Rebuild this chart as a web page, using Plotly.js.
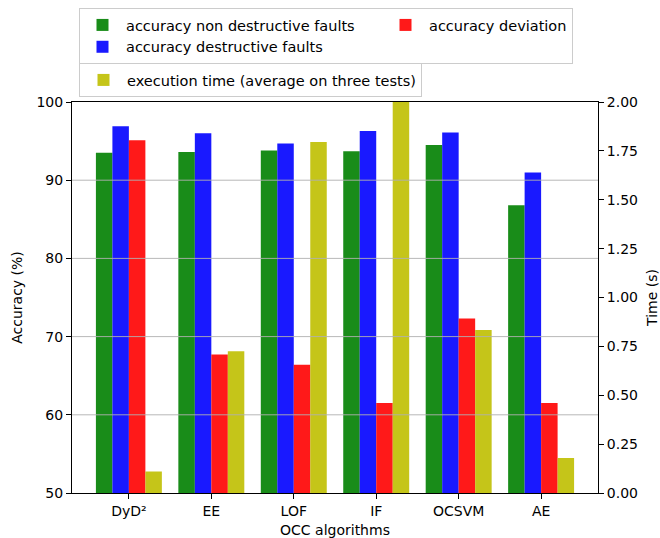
<!DOCTYPE html>
<html><head><meta charset="utf-8">
<script src="https://cdn.plot.ly/plotly-3.0.1.min.js"></script>
<style>html,body{margin:0;padding:0;background:#fff}</style>
</head><body><div id="chart" style="width:660px;height:538px"></div>
<script>
// ---- data ----
const categories = ['DyD²', 'EE', 'LOF', 'IF', 'OCSVM', 'AE'];
const accNonDestructive = [93.5, 93.6, 93.8, 93.7, 94.5, 86.8];
const accDestructive = [96.9, 96.0, 94.7, 96.3, 96.1, 91.0];
const accDeviation = [95.1, 67.7, 66.4, 61.5, 72.3, 61.5];
const execTime = [0.11, 0.725, 1.795, 2.0, 0.834, 0.179];
const accTicks = [50, 60, 70, 80, 90, 100];
const timeTicks = [0, 0.25, 0.5, 0.75, 1.0, 1.25, 1.5, 1.75, 2.0];
const seriesNames = ['accuracy non destructive faults', 'accuracy destructive faults',
                     'accuracy deviation', 'execution time (average on three tests)'];

const FONT = 'DejaVu Sans, sans-serif';
const BW = 0.2;

function bar(y, name, color, offset, extra) {
  return Object.assign({
    type: 'bar', x: categories, y: y, name: name, width: BW, offset: offset,
    marker: {color: color, line: {width: 0}}, hoverinfo: 'x+y+name'
  }, extra);
}

const traces = [
  bar(accNonDestructive, seriesNames[0], 'rgba(0,128,0,0.9)', -0.4, {legendgroup: 'a', legend: 'legend', legendwidth: 251}),
  bar(accDestructive, seriesNames[1], 'rgba(0,0,255,0.9)', -0.2, {legendgroup: 'a', legend: 'legend', legendwidth: 251}),
  bar(accDeviation, seriesNames[2], 'rgba(255,0,0,0.9)', 0.0, {legendgroup: 'b', legend: 'legend'}),
  bar(execTime, seriesNames[3], 'rgba(191,191,0,0.9)', 0.2, {yaxis: 'y2', legend: 'legend2'})
];

// gridlines drawn above bars (as matplotlib does), from the left-axis ticks
const gridShapes = accTicks.filter(v => v > 50 && v < 100).map(v => ({
  type: 'line', xref: 'paper', x0: 0, x1: 1, yref: 'y', y0: v, y1: v,
  line: {color: 'rgba(176,176,176,0.9)', width: 1}, layer: 'above'
}));

const layout = {
  width: 660, height: 538,
  margin: {l: 72, r: 62, t: 102, b: 45, pad: 0},
  paper_bgcolor: '#ffffff', plot_bgcolor: '#ffffff',
  font: {family: FONT, size: 14, color: '#000000'},
  barmode: 'overlay',
  showlegend: true,
  xaxis: {
    type: 'category', range: [-0.69, 5.69], showgrid: false, zeroline: false,
    showline: true, linecolor: '#000', linewidth: 1, mirror: true,
    ticks: 'outside', ticklen: 5, tickwidth: 1, tickcolor: '#000',
    tickfont: {family: FONT, size: 14},
    title: {text: 'OCC algorithms', font: {family: FONT, size: 14}, standoff: 10},
    automargin: false
  },
  yaxis: {
    range: [50, 100], tickvals: accTicks, showgrid: false, zeroline: false,
    showline: true, linecolor: '#000', linewidth: 1,
    ticks: 'outside', ticklen: 5, tickwidth: 1, tickcolor: '#000',
    tickfont: {family: FONT, size: 14},
    title: {text: 'Accuracy (%)', font: {family: FONT, size: 14}, standoff: 10},
    automargin: false
  },
  yaxis2: {
    overlaying: 'y', side: 'right', range: [0, 2], tickvals: timeTicks, tickformat: '.2f',
    showgrid: false, zeroline: false,
    showline: true, linecolor: '#000', linewidth: 1,
    ticks: 'outside', ticklen: 5, tickwidth: 1, tickcolor: '#000',
    tickfont: {family: FONT, size: 14},
    title: {text: 'Time (s)', font: {family: FONT, size: 14}, standoff: 10},
    automargin: false
  },
  legend: {
    orientation: 'h', traceorder: 'grouped', tracegroupgap: 0, itemwidth: 37,
    xref: 'container', yref: 'container',
    x: 79 / 660, xanchor: 'left', y: 1 - 8 / 538, yanchor: 'top',
    bgcolor: '#ffffff', bordercolor: '#cccccc', borderwidth: 1,
    font: {family: FONT, size: 14.5}
  },
  legend2: {
    orientation: 'h', itemwidth: 37,
    xref: 'container', yref: 'container',
    x: 79 / 660, xanchor: 'left', y: 1 - 63 / 538, yanchor: 'top',
    bgcolor: '#ffffff', bordercolor: '#cccccc', borderwidth: 1,
    font: {family: FONT, size: 14.5}
  },
  shapes: gridShapes
};

Plotly.newPlot('chart', traces, layout, {displayModeBar: false, responsive: false});
</script>
</body></html>
